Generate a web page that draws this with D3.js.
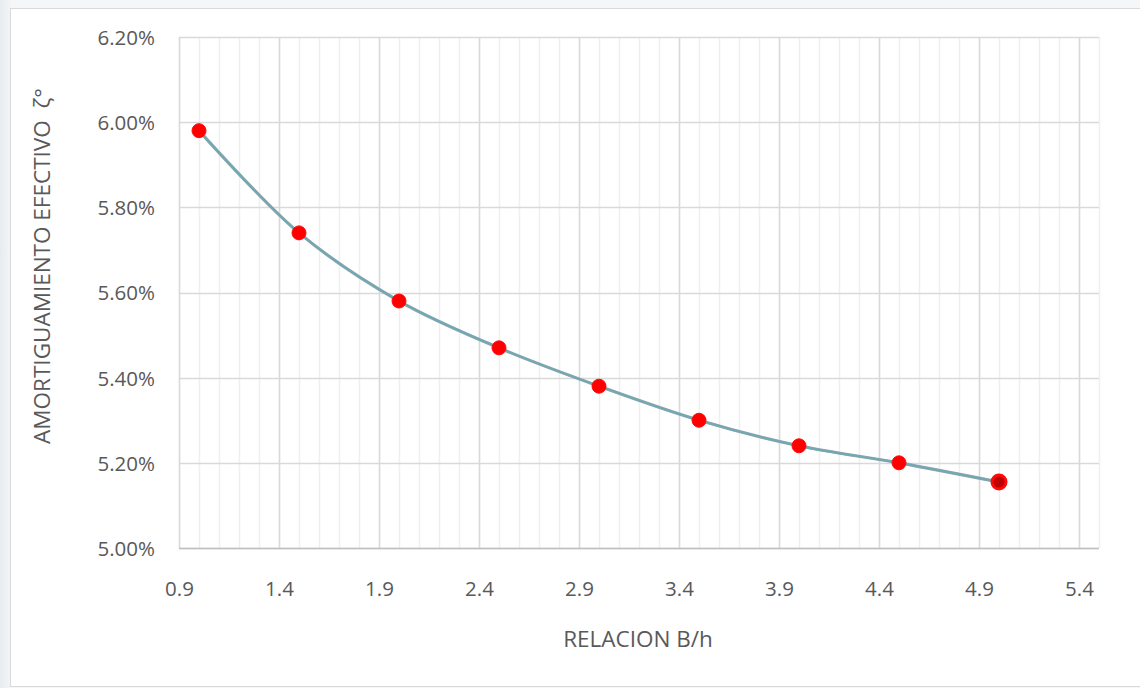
<!DOCTYPE html>
<html>
<head>
<meta charset="utf-8">
<script src="https://cdn.jsdelivr.net/npm/d3@7"></script>
<style>
  html, body { margin: 0; padding: 0; background: #ffffff; }
  svg { display: block; }
  text { font-family: "Open Sans", "Liberation Sans", sans-serif; fill: #595959; }
</style>
</head>
<body>
<svg id="chart" width="1140" height="688"></svg>
<script>
// B/h ratio and effective damping (percent)
const ratios = [1.0, 1.5, 2.0, 2.5, 3.0, 3.5, 4.0, 4.5, 5.0];
const damping = [5.98, 5.74, 5.58, 5.47, 5.38, 5.30, 5.24, 5.20, 5.155];

const xTicks = [0.9, 1.4, 1.9, 2.4, 2.9, 3.4, 3.9, 4.4, 4.9, 5.4];
const yTicks = [5.00, 5.20, 5.40, 5.60, 5.80, 6.00, 6.20];

const xTitle = "RELACION B/h";
const yTitle = "AMORTIGUAMIENTO EFECTIVO\u00a0\u00a0ζ°";

const svg = d3.select("#chart");
const W = 1140, H = 688;

// card background with soft shadow
const defs = svg.append("defs");
const grad = defs.append("linearGradient").attr("id", "bgShade").attr("x1", 0).attr("x2", 1).attr("y1", 0).attr("y2", 0);
grad.append("stop").attr("offset", "0").attr("stop-color", "#e8ecef");
grad.append("stop").attr("offset", "1").attr("stop-color", "#f3f5f7");
svg.append("rect").attr("width", W).attr("height", H).attr("fill", "#f4f6f8");
svg.append("rect").attr("x", 0).attr("y", 0).attr("width", 11).attr("height", H).attr("fill", "url(#bgShade)");
svg.append("rect")
  .attr("x", 10.5).attr("y", 8.5).attr("width", W - 10).attr("height", H - 10)
  .attr("fill", "#ffffff").attr("stroke", "#d9d9d9").attr("stroke-width", 1);

const plot = { left: 179, right: 1099, top: 37, bottom: 548 };

const x = d3.scaleLinear().domain([0.9, 5.5]).range([plot.left, plot.right]);
const y = d3.scaleLinear().domain([5.00, 6.20]).range([plot.bottom, plot.top]);

// minor vertical gridlines every 0.1
const minorX = d3.range(9, 56).map(v => v / 10);
svg.append("g").selectAll("line").data(minorX).join("line")
  .attr("x1", d => Math.round(x(d)) + 0.5).attr("x2", d => Math.round(x(d)) + 0.5)
  .attr("y1", plot.top).attr("y2", plot.bottom)
  .attr("stroke", "#efefef").attr("stroke-width", 1.5);

// major vertical gridlines
svg.append("g").selectAll("line").data(xTicks).join("line")
  .attr("x1", d => Math.round(x(d)) + 0.5).attr("x2", d => Math.round(x(d)) + 0.5)
  .attr("y1", plot.top).attr("y2", plot.bottom)
  .attr("stroke", "#d9d9d9").attr("stroke-width", 1.5);

// horizontal gridlines
svg.append("g").selectAll("line").data(yTicks).join("line")
  .attr("x1", plot.left).attr("x2", plot.right)
  .attr("y1", d => Math.round(y(d)) + 0.5).attr("y2", d => Math.round(y(d)) + 0.5)
  .attr("stroke", "#d9d9d9").attr("stroke-width", 1.5);

// bottom axis line
svg.append("line")
  .attr("x1", plot.left).attr("x2", plot.right)
  .attr("y1", plot.bottom + 0.5).attr("y2", plot.bottom + 0.5)
  .attr("stroke", "#bfbfbf").attr("stroke-width", 1.5);

// x axis tick labels
const xAxis = d3.axisBottom(x).tickValues(xTicks).tickFormat(d3.format(".1f")).tickSize(0).tickPadding(0);
const gx = svg.append("g").attr("transform", `translate(0,${plot.bottom})`).call(xAxis);
gx.select(".domain").remove();
gx.selectAll("text")
  .attr("y", 0).attr("dy", null).attr("transform", "translate(0,48)")
  .style("font-size", "20.5px").style("fill", "#595959")
  .style("font-family", "'Open Sans', sans-serif");

// y axis tick labels
const yAxis = d3.axisLeft(y).tickValues(yTicks).tickFormat(d => d.toFixed(2) + "%").tickSize(0).tickPadding(0);
const gy = svg.append("g").attr("transform", `translate(155,0)`).call(yAxis);
gy.select(".domain").remove();
gy.selectAll("text")
  .attr("x", 0).attr("dy", "0.36em")
  .style("font-size", "20.5px").style("fill", "#595959")
  .style("font-family", "'Open Sans', sans-serif");

// curve
const pts = ratios.map((r, i) => [r, damping[i]]);
const line = d3.line().x(d => x(d[0])).y(d => y(d[1])).curve(d3.curveCatmullRom.alpha(0.5));
svg.append("path").datum(pts)
  .attr("d", line)
  .attr("fill", "none").attr("stroke", "#9aa7ad").attr("stroke-width", 3.2);
svg.append("path").datum(pts)
  .attr("d", line)
  .attr("fill", "none").attr("stroke", "#72a8b4").attr("stroke-width", 2.2);

// markers
svg.append("g").selectAll("circle").data(pts).join("circle")
  .attr("cx", d => x(d[0])).attr("cy", d => y(d[1]))
  .attr("r", 7)
  .attr("fill", (d, i) => i === pts.length - 1 ? "#c00000" : "#ff0000")
  .attr("stroke", "#ff0a0a").attr("stroke-width", (d, i) => i === pts.length - 1 ? 3 : 1);

// axis titles
svg.append("text")
  .attr("x", (plot.left + plot.right) / 2 - 1).attr("y", 647)
  .attr("text-anchor", "middle")
  .style("font-size", "22.5px")
  .text(xTitle);

svg.append("text")
  .attr("transform", `translate(50,266) rotate(-90)`)
  .attr("text-anchor", "middle")
  .style("font-size", "22.5px")
  .text(yTitle);
</script>
</body>
</html>
